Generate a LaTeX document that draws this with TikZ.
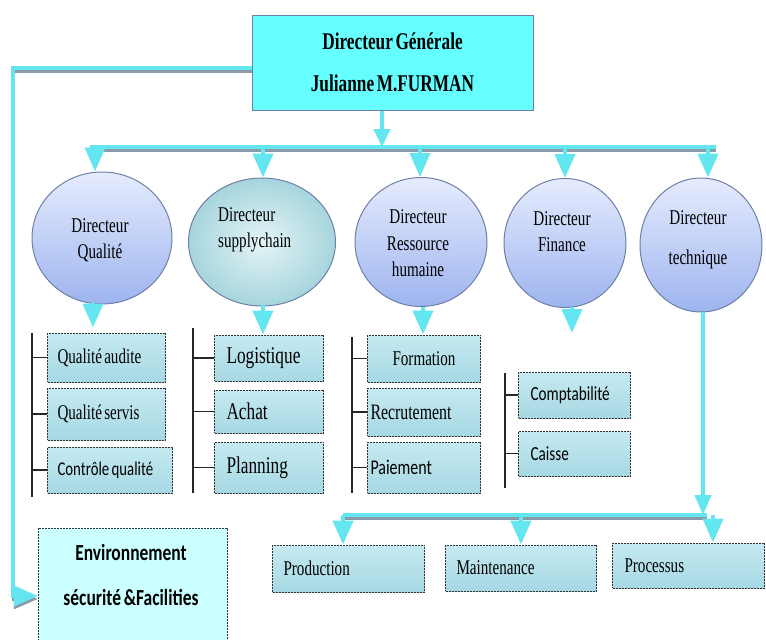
\documentclass[tikz,border=0pt]{standalone}
\usepackage{fontspec}
\setmainfont{Liberation Serif}
\newfontfamily\nserif[FakeStretch=0.72, WordSpace=0.6]{Liberation Serif}
\newfontfamily\nsans[FakeStretch=0.76, WordSpace=0.7]{Carlito}
\usetikzlibrary{arrows.meta,shapes.geometric}
\definecolor{link}{HTML}{63E6EF}
\definecolor{linkshadow}{HTML}{8A9AA6}
\definecolor{boss}{HTML}{66FFFF}
\definecolor{envfill}{HTML}{CCFFFF}
\definecolor{dirtop}{HTML}{E6ECFE}
\definecolor{dirbot}{HTML}{9DB4EE}
\definecolor{dirline}{HTML}{6E7FA8}
\definecolor{supin}{HTML}{E4F4F6}
\definecolor{supout}{HTML}{A6D5DD}
\definecolor{watertop}{HTML}{C6EAF1}
\definecolor{waterbot}{HTML}{A6D8E3}
\tikzset{%
    >={Triangle[width=20pt,length=24pt]}
}

\begin{document}
\begin{tikzpicture}[x=1pt, y=-1pt,
    bus/.style={line width=4pt, draw=link, preaction={draw=linkshadow, line width=3pt, transform canvas={yshift=-3pt}}},
    dn/.style={line width=4pt, draw=link, ->},
    dirc/.style={ellipse, draw=dirline, line width=1pt, top color=dirtop, bottom color=dirbot},
    supc/.style={ellipse, draw=dirline, line width=1pt, inner color=supin, outer color=supout},
    dtext/.style={font=\nserif\fontsize{21}{26.5}\selectfont, align=center, inner sep=0pt},
    sub/.style={draw=black!80, dash pattern=on 2pt off 1pt, line width=1pt, top color=watertop, bottom color=waterbot,
                anchor=west, align=left, inner xsep=10pt, inner ysep=0pt, font=\nserif\fontsize{21}{24}\selectfont,
                execute at begin node={\spaceskip=0pt\xspaceskip=0pt}},
    brk/.style={draw=black!85, line width=1.2pt}]
  \useasboundingbox (0,0) rectangle (766,640);

  % direction
  \node[draw=dirline, fill=boss, line width=1pt, minimum width=281pt, minimum height=95pt, align=center,
        font=\nserif\bfseries\fontsize{24}{42}\selectfont] (dg) at (392.5,62.5) {Directeur Générale\\Julianne M.FURMAN};

  \node[draw=black!80, dash pattern=on 2pt off 1pt, fill=envfill, minimum width=189pt, minimum height=117pt] (env) at (132.5,586.5) {};
  \node[font=\nsans\bfseries\fontsize{23}{45}\selectfont, align=center] (envT) at (131,575.5) {Environnement\\sécurité \&Facilities};

  \coordinate (lc) at (13,596);
  \draw[bus, ->] ([yshift=-5.5pt]dg.west) -| (lc) -- (lc -| env.west);

  % directeurs
  \node[dirc, minimum width=140pt, minimum height=132pt] (dq) at (102,238) {};
  \node[dtext] (dqT) at (100,240) {Directeur\\Qualité};
  \node[supc, minimum width=147pt, minimum height=128pt] (ds) at (262,242) {};
  \node[dtext, align=left, anchor=west] (dsT) at (218,230) {Directeur\\supplychain};
  \node[dirc, minimum width=132pt, minimum height=129pt] (dr) at (421,242) {};
  \node[dtext] (drT) at (418,243.5) {Directeur\\Ressource\\humaine};
  \node[dirc, minimum width=122pt, minimum height=129pt] (df) at (565,243) {};
  \node[dtext] (dfT) at (562,231.5) {Directeur\\Finance};
  \node[dirc, minimum width=122pt, minimum height=134pt] (dt) at (701,245) {};
  \node[dtext] (dtT) at (698,240) {Directeur\\[13.5pt]technique};

  \coordinate (bl) at (90,147);
  \coordinate (br) at (716,147);
  \draw[bus] (bl) -- (br);
  \coordinate (a0) at (382,147);
  \draw[dn, -{Triangle[width=16pt,length=18pt]}] (a0 |- dg.south) -- (a0);
  \coordinate (a1) at (95,147);
  \coordinate (a2) at (263,147);
  \coordinate (a3) at (420,147);
  \coordinate (a4) at (565,147);
  \coordinate (a5) at (708,147);
  \draw[dn] (a1) -- (a1 |- dq.north);
  \draw[dn] (a2) -- (a2 |- ds.north);
  \draw[dn] (a3) -- (a3 |- dr.north);
  \draw[dn] (a4) -- (a4 |- df.north);
  \draw[dn] (a5) -- (a5 |- dt.north);

  % services
  \node[sub, text width=98pt, minimum height=49pt] (qa) at (47,357.5) {Qualité audite};
  \node[sub, text width=98pt, minimum height=52pt] (qs) at (47,414) {Qualité servis};
  \node[sub, text width=105pt, minimum height=46pt, font=\nsans\fontsize{19.5}{22}\selectfont] (qc) at (47,470) {Contrôle qualité};

  \node[sub, inner xsep=12pt, text width=85pt, minimum height=46pt, font=\nserif\fontsize{24}{26}\selectfont] (lg) at (214,358) {Logistique};
  \node[sub, inner xsep=12pt, text width=85pt, minimum height=43pt, font=\nserif\fontsize{24}{26}\selectfont] (ac) at (214,411.5) {Achat};
  \node[sub, inner xsep=12pt, text width=85pt, minimum height=51pt, font=\nserif\fontsize{24}{26}\selectfont] (pl) at (214,467.5) {Planning};

  \node[sub, align=center, text width=93pt, minimum height=47pt] (fo) at (367,358.5) {Formation};
  \node[sub, inner xsep=3pt, text width=107pt, minimum height=48pt, font=\nserif\fontsize{22}{24}\selectfont] (re) at (367,412) {Recrutement};
  \node[sub, inner xsep=3pt, text width=107pt, minimum height=51pt, font=\nsans\fontsize{21}{24}\selectfont] (pa) at (367,467.5) {Paiement};

  \node[sub, inner xsep=12pt, text width=88pt, minimum height=46pt, font=\nsans\fontsize{20}{22}\selectfont] (co) at (518,395) {Comptabilité};
  \node[sub, inner xsep=12pt, text width=88pt, minimum height=45pt, font=\nsans\fontsize{20}{22}\selectfont] (ca) at (518,453.5) {Caisse};

  \node[sub, inner xsep=11pt, text width=130pt, minimum height=47pt] (pr) at (272,568.5) {Production};
  \node[sub, inner xsep=11pt, text width=129pt, minimum height=46pt] (mt) at (445,568) {Maintenance};
  \node[sub, inner xsep=12pt, text width=128pt, minimum height=45pt] (ps) at (612,565.5) {Processus};

  \coordinate (q0) at (32,333);
  \coordinate (q9) at (32,497);
  \draw[brk] (q0) -- (q9);
  \foreach \b in {qa,qs,qc} \draw[brk] (q0 |- \b.west) -- (\b.west);
  \coordinate (s0) at (193,328);
  \coordinate (s9) at (193,493);
  \draw[brk] (s0) -- (s9);
  \foreach \b in {lg,ac,pl} \draw[brk] (s0 |- \b.west) -- (\b.west);
  \coordinate (r0) at (352,337);
  \coordinate (r9) at (352,493);
  \draw[brk] (r0) -- (r9);
  \foreach \b in {fo,re,pa} \draw[brk] (r0 |- \b.west) -- (\b.west);
  \coordinate (f0) at (505,373);
  \coordinate (f9) at (505,488);
  \draw[brk] (f0) -- (f9);
  \foreach \b in {co,ca} \draw[brk] (f0 |- \b.west) -- (\b.west);

  \coordinate (u1) at (93,303);
  \coordinate (u2) at (263,305);
  \coordinate (u3) at (423,307);
  \coordinate (u4) at (572,307);
  \coordinate (u4e) at (572,333);
  \draw[dn, shorten >=5pt] (u1) -- (u1 |- qa.north);
  \draw[dn] (u2) -- (u2 |- lg.north);
  \draw[dn] (u3) -- (u3 |- fo.north);
  \draw[dn] (u4) -- (u4e);

  % technique
  \coordinate (u5) at (703,312);
  \coordinate (tl) at (343,515);
  \coordinate (tr) at (707,515);
  \coordinate (t2) at (521,515);
  \coordinate (t3) at (713,515);
  \draw[bus] (tl) -- (tr);
  \draw[dn, -{Triangle[width=16pt,length=20pt]}] (u5) -- (u5 |- tr);
  \draw[dn] (tl) -- (tl |- pr.north);
  \draw[dn] (t2) -- (t2 |- mt.north);
  \draw[dn] (t3) -- (t3 |- ps.north);
\end{tikzpicture}
\end{document}
